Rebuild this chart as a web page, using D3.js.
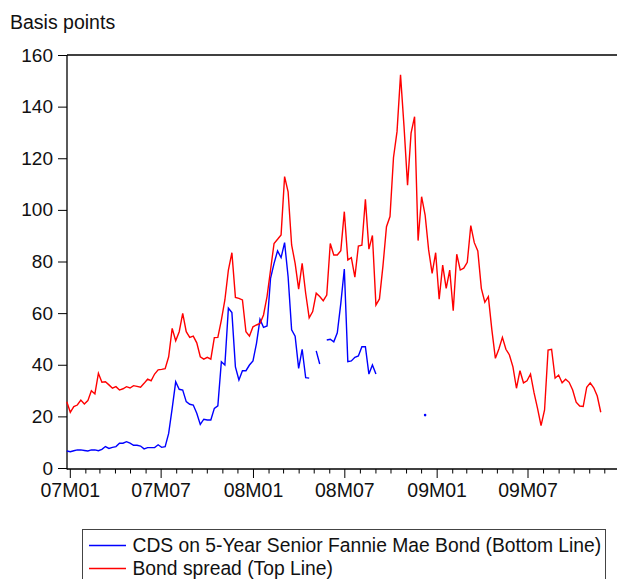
<!DOCTYPE html>
<html>
<head>
<meta charset="utf-8">
<script src="https://cdn.jsdelivr.net/npm/d3@7"></script>
<style>
  body { margin: 0; background: #fff; }
  svg { display: block; font-family: "Liberation Sans", Arial, sans-serif; }
</style>
</head>
<body>
<svg id="chart" width="617" height="579"></svg>
<script>
// weekly observations, first week starts 2006-12-25
var startDate = new Date(2006, 11, 25);

// Bond spread (Top Line), basis points
var bondSpread = [
  25.7, 21.6, 23.8, 24.4, 26.3, 24.8, 26.1, 29.9, 28.7, 36.7,
  33.2, 33.4, 32.2, 30.9, 31.5, 30.2, 30.7, 31.5, 31.0, 31.9,
  31.6, 31.3, 32.8, 34.4, 33.8, 36.4, 38.0, 38.2, 38.5, 43.1,
  54.1, 49.3, 52.8, 59.9, 52.8, 50.6, 51.1, 48.5, 43.1, 42.2,
  42.9, 42.2, 50.5, 50.6, 57.3, 65.1, 76.7, 83.4, 66.1, 65.7,
  65.1, 52.8, 51.1, 54.7, 55.4, 56.0, 59.3, 66.4, 76.7, 87.0,
  88.6, 90.3, 112.9, 107.0, 86.4, 79.3, 69.3, 79.3, 67.7, 58.2,
  60.6, 67.7, 66.4, 64.8, 67.0, 87.0, 82.5, 82.5, 84.2, 99.3,
  80.6, 81.5, 73.9, 86.0, 86.3, 104.1, 84.8, 90.1, 63.1, 65.5,
  78.3, 93.5, 97.4, 120.3, 130.3, 152.3, 132.2, 109.6, 129.7, 136.1,
  88.1, 105.1, 98.0, 84.5, 75.4, 83.4, 65.4, 78.6, 69.6, 76.7,
  60.9, 82.8, 76.7, 77.4, 79.7, 93.9, 87.3, 84.1, 69.6, 64.2,
  66.4, 53.5, 42.5, 46.1, 50.6, 46.0, 43.8, 39.2, 30.9, 37.7,
  33.0, 33.8, 36.4, 29.2, 23.1, 16.4, 22.5, 45.7, 46.0, 34.8,
  36.0, 33.0, 34.4, 33.2, 30.2, 25.5, 24.0, 23.8, 31.3, 33.0,
  31.1, 27.9, 21.6
];

// CDS on 5-Year Senior Fannie Mae Bond (Bottom Line), null = missing
var cds = [
  6.6, 6.3, 6.7, 7.0, 7.0, 6.8, 6.6, 7.0, 7.0, 6.7,
  7.2, 8.3, 7.6, 8.0, 8.3, 9.6, 9.6, 10.2, 9.6, 8.8,
  8.8, 8.5, 7.4, 7.9, 7.9, 7.9, 9.0, 8.0, 8.3, 13.4,
  23.1, 33.4, 30.5, 30.2, 25.7, 24.7, 24.4, 21.2, 16.9, 18.9,
  18.6, 18.6, 23.1, 24.1, 41.2, 39.9, 61.9, 60.2, 39.2, 34.1,
  37.7, 37.7, 39.9, 41.5, 48.3, 57.6, 54.5, 55.0, 73.5, 79.3,
  84.1, 81.5, 87.3, 74.1, 53.5, 51.1, 38.6, 46.0, 35.0, 34.8,
  null, 45.4, 40.3, null, 49.6, 49.9, 48.9, 52.4, 63.8, 77.1,
  41.2, 41.5, 42.9, 43.4, 47.0, 47.0, 36.4, 39.9, 36.4, null,
  null, null, null, null, null, null, null, null, null, null,
  null, null, 20.5, null, null, null, null, null, null, null,
  null, null, null, null, null, null, null, null, null, null,
  null, null, null, null, null, null, null, null, null, null,
  null, null, null, null, null, null, null, null, null, null,
  null, null, null, null, null, null, null, null, null, null,
  null, null, null
];

var yTicks = [0, 20, 40, 60, 80, 100, 120, 140, 160];
var legendLabels = ["CDS on 5-Year Senior Fannie Mae Bond (Bottom Line)", "Bond spread (Top Line)"];
var seriesColors = ["#0000ff", "#ff0000"];

var svg = d3.select("#chart");

var plotLeft = 67, plotTop = 55, plotBottom = 468, plotRight = 617;

var dates = bondSpread.map(function(d, i) { return d3.timeDay.offset(startDate, 7 * i); });

var x = d3.scaleTime()
    .domain([new Date(2007, 0, 1), new Date(2009, 6, 1)])
    .range([70.3, 528]);

var y = d3.scaleLinear()
    .domain([0, 160])
    .range([plotBottom, plotTop]);

// frame: top line, left axis, bottom axis
svg.append("line")
    .attr("x1", plotLeft).attr("x2", plotRight)
    .attr("y1", plotTop).attr("y2", plotTop)
    .attr("stroke", "#000").attr("stroke-width", 1.3);

var yAxis = d3.axisLeft(y)
    .tickValues(yTicks)
    .tickSize(9)
    .tickPadding(5);

var gy = svg.append("g")
    .attr("transform", "translate(" + plotLeft + ",0)")
    .call(yAxis);
gy.select(".domain").remove();
gy.append("line")
    .attr("x1", 0).attr("x2", 0)
    .attr("y1", plotTop).attr("y2", plotBottom + 1.5)
    .attr("stroke", "#000").attr("stroke-width", 1.3);
gy.selectAll(".tick line").attr("stroke", "#000").attr("stroke-width", 1);
gy.selectAll(".tick text")
    .attr("font-size", "19px")
    .attr("fill", "#111")
    .attr("font-family", "Liberation Sans, Arial, sans-serif");

// bottom axis with monthly ticks, labels every 6 months
var months = d3.timeMonth.range(new Date(2007, 0, 1), new Date(2009, 11, 2));
var gx = svg.append("g").attr("transform", "translate(0," + (plotBottom + 1) + ")");
gx.append("line")
    .attr("x1", plotLeft).attr("x2", plotRight)
    .attr("y1", 0).attr("y2", 0)
    .attr("stroke", "#000").attr("stroke-width", 1.3);
gx.selectAll("line.tick")
    .data(months)
    .join("line")
    .attr("class", "tick")
    .attr("x1", function(d) { return x(d); })
    .attr("x2", function(d) { return x(d); })
    .attr("y1", 0)
    .attr("y2", function(d) { return d.getMonth() % 6 === 0 ? 9 : 4.5; })
    .attr("stroke", "#000").attr("stroke-width", 1);
var fmt = d3.timeFormat("%yM%m");
gx.selectAll("text")
    .data(months.filter(function(d) { return d.getMonth() % 6 === 0; }))
    .join("text")
    .attr("x", function(d) { return x(d); })
    .attr("y", 28)
    .attr("text-anchor", "middle")
    .attr("font-size", "19.5px")
    .attr("fill", "#111")
    .text(fmt);

// y axis title
svg.append("text")
    .attr("x", 10).attr("y", 29)
    .attr("font-size", "19.5px")
    .attr("fill", "#111")
    .text("Basis points");

// lines
var line = d3.line()
    .defined(function(d) { return d != null; })
    .x(function(d, i) { return x(dates[i]); })
    .y(function(d) { return y(d); });

svg.append("path")
    .datum(cds)
    .attr("fill", "none")
    .attr("stroke", seriesColors[0])
    .attr("stroke-width", 1.4)
    .attr("d", line);

// isolated CDS observations
svg.selectAll("circle.iso")
    .data(cds.map(function(d, i) { return {v: d, i: i}; }).filter(function(o) {
        return o.v != null && cds[o.i - 1] == null && cds[o.i + 1] == null;
    }))
    .join("circle")
    .attr("class", "iso")
    .attr("cx", function(o) { return x(dates[o.i]); })
    .attr("cy", function(o) { return y(o.v); })
    .attr("r", 1.3)
    .attr("fill", seriesColors[0]);

svg.append("path")
    .datum(bondSpread)
    .attr("fill", "none")
    .attr("stroke", seriesColors[1])
    .attr("stroke-width", 1.4)
    .attr("d", line);

// legend
svg.append("rect")
    .attr("x", 82.5).attr("y", 529.5)
    .attr("width", 523).attr("height", 70)
    .attr("fill", "#fff")
    .attr("stroke", "#444").attr("stroke-width", 1);

var lg = svg.selectAll("g.leg")
    .data(legendLabels)
    .join("g")
    .attr("class", "leg")
    .attr("transform", function(d, i) { return "translate(0," + (545.5 + 23 * i) + ")"; });
lg.append("line")
    .attr("x1", 89).attr("x2", 126)
    .attr("stroke", function(d, i) { return seriesColors[i]; })
    .attr("stroke-width", 1.4);
lg.append("text")
    .attr("x", 132.5).attr("y", 6.5)
    .attr("font-size", "19.3px")
    .attr("fill", "#111")
    .text(function(d) { return d; });
</script>
</body>
</html>
